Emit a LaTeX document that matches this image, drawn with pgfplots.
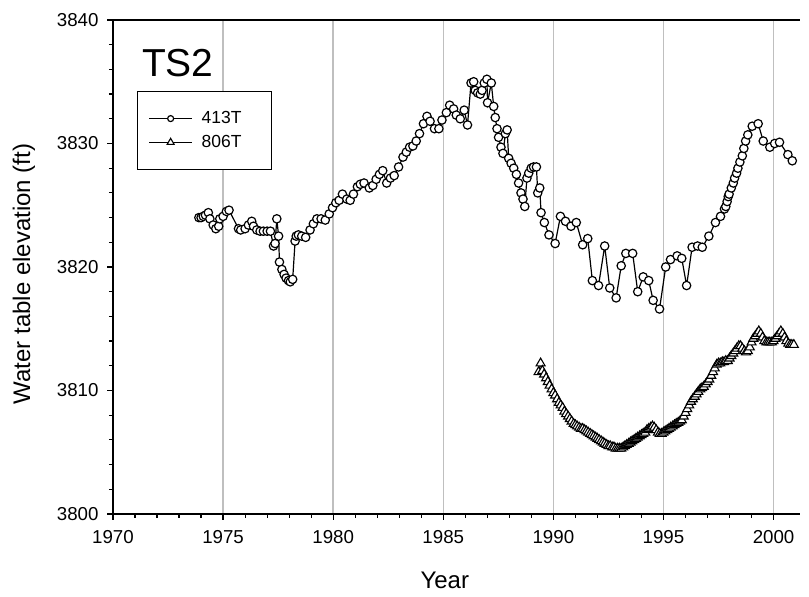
\documentclass[border=0pt]{standalone}
\usepackage{fontspec}
\setmainfont{Liberation Sans}
\usepackage{pgfplots}
\pgfplotsset{compat=1.18}
\pgfplotsset{
  legA/.style={legend image code/.code={\draw[mark repeat=2,mark phase=2,##1,line width=1.0pt,mark size=3.0pt] plot coordinates {(0pt,0pt) (21.5pt,0pt) (43pt,0pt)};}},
  legB/.style={legend image code/.code={\draw[mark repeat=2,mark phase=2,##1,line width=1.0pt,mark size=4.0pt] plot coordinates {(0pt,0pt) (21.5pt,0pt) (43pt,0pt)};}},
}
\begin{document}
\begin{tikzpicture}
\useasboundingbox (-113pt,-83pt) rectangle (696pt,514pt);
\begin{axis}[
  at={(0pt,0pt)}, anchor=south west,
  scale only axis, width=687pt, height=494pt,
  xmin=1970, xmax=2001.2, ymin=3800, ymax=3840,
  axis x line*=bottom, axis y line*=left,
  axis line style={line width=1.3pt, black},
  xtick={1970,1975,...,2000}, ytick={3800,3810,...,3840},
  minor x tick num=4, minor y tick num=4,
  tick align=outside,
  major tick length=6pt, minor tick length=4pt,
  every tick/.style={black, line width=1.2pt},
  xmajorgrids, major x grid style={black!25, line width=1.5pt},
  /pgf/number format/assume math mode=true,
  /pgf/number format/1000 sep={},
  ticklabel style={font=\fontsize{18.7}{22}\selectfont},
  xticklabel style={yshift=-7pt},
  yticklabel style={xshift=-5pt},
  xlabel={Year}, ylabel={Water table elevation (ft)},
  label style={font=\fontsize{24}{28}\selectfont},
  xlabel style={at={(axis description cs:0.483,-0.1336)}, anchor=center},
  ylabel style={at={(axis description cs:-0.1295,0.486)}, anchor=center},
  legend style={at={(rel axis cs:0.035,0.856)}, anchor=north west, draw=black, line width=1.2pt,
    font=\fontsize{17.5}{20}\selectfont, inner xsep=11pt, inner ysep=18pt, row sep=6pt},
  legend cell align=left,
]
\draw[line width=1.3pt] (rel axis cs:0,1) -- (rel axis cs:1,1);
\addplot[black, line width=1.2pt, mark=*, mark size=4.2pt, mark options={fill=white, draw=black, line width=1.2pt}, legA]
coordinates {
(1973.90,3824.0) (1974.00,3824.0) (1974.10,3824.1) (1974.20,3824.2) (1974.33,3824.4)
(1974.40,3823.9) (1974.55,3823.4) (1974.67,3823.1) (1974.80,3823.3) (1974.85,3823.9)
(1975.00,3824.1) (1975.15,3824.5) (1975.27,3824.6) (1975.70,3823.1) (1975.80,3823.0)
(1976.00,3823.1) (1976.15,3823.4) (1976.30,3823.7) (1976.38,3823.3) (1976.53,3823.0)
(1976.68,3822.9) (1976.83,3822.9) (1977.00,3822.9) (1977.15,3822.9) (1977.29,3821.7)
(1977.36,3821.9) (1977.44,3823.9) (1977.52,3822.5) (1977.56,3820.4) (1977.67,3819.8)
(1977.77,3819.4) (1977.86,3819.1) (1977.97,3818.9) (1978.05,3818.8) (1978.16,3819.0)
(1978.27,3822.1) (1978.32,3822.5) (1978.42,3822.6) (1978.57,3822.5) (1978.75,3822.4)
(1978.95,3823.0) (1979.10,3823.5) (1979.26,3823.9) (1979.45,3823.9) (1979.64,3823.8)
(1979.82,3824.3) (1979.97,3824.8) (1980.12,3825.2) (1980.27,3825.4) (1980.42,3825.9)
(1980.62,3825.5) (1980.77,3825.4) (1980.92,3825.9) (1981.10,3826.5) (1981.23,3826.7)
(1981.40,3826.8) (1981.64,3826.4) (1981.80,3826.6) (1981.95,3827.1) (1982.10,3827.5)
(1982.25,3827.8) (1982.43,3826.8) (1982.60,3827.2) (1982.77,3827.4) (1982.97,3828.1)
(1983.17,3828.9) (1983.32,3829.3) (1983.47,3829.7) (1983.62,3829.8) (1983.77,3830.2)
(1983.92,3830.8) (1984.10,3831.6) (1984.26,3832.2) (1984.40,3831.8) (1984.60,3831.2)
(1984.80,3831.2) (1984.94,3831.9) (1985.14,3832.5) (1985.29,3833.1) (1985.47,3832.8)
(1985.59,3832.3) (1985.77,3832.0) (1985.95,3832.7) (1986.10,3831.5) (1986.26,3834.9)
(1986.38,3835.0) (1986.45,3834.3) (1986.56,3834.1) (1986.68,3834.0) (1986.76,3834.3)
(1986.86,3834.9) (1986.98,3835.2) (1987.01,3833.3) (1987.18,3834.9) (1987.29,3833.0)
(1987.36,3832.1) (1987.44,3831.2) (1987.51,3830.5) (1987.62,3829.7) (1987.71,3829.2)
(1987.82,3830.8) (1987.90,3831.1) (1987.97,3828.8) (1988.08,3828.4) (1988.20,3828.0)
(1988.32,3827.5) (1988.42,3826.8) (1988.53,3826.0) (1988.62,3825.5) (1988.70,3824.9)
(1988.80,3827.2) (1988.88,3827.6) (1988.99,3828.0) (1989.10,3828.1) (1989.23,3828.1)
(1989.29,3826.0) (1989.38,3826.4) (1989.44,3824.4) (1989.59,3823.6) (1989.80,3822.6)
(1990.08,3821.9) (1990.32,3824.1) (1990.55,3823.7) (1990.80,3823.3) (1991.04,3823.6)
(1991.33,3821.8) (1991.56,3822.3) (1991.77,3818.9) (1992.05,3818.5) (1992.33,3821.7)
(1992.56,3818.3) (1992.85,3817.5) (1993.08,3820.1) (1993.29,3821.1) (1993.60,3821.1)
(1993.83,3818.0) (1994.08,3819.2) (1994.33,3818.9) (1994.53,3817.3) (1994.82,3816.6)
(1995.10,3820.0) (1995.32,3820.6) (1995.62,3820.9) (1995.83,3820.7) (1996.05,3818.5)
(1996.30,3821.6) (1996.55,3821.7) (1996.76,3821.6) (1997.06,3822.5) (1997.36,3823.6)
(1997.59,3824.1) (1997.77,3824.7) (1997.83,3824.9) (1997.89,3825.3) (1997.94,3825.7)
(1997.98,3825.9) (1998.08,3826.4) (1998.17,3826.8) (1998.23,3827.2) (1998.32,3827.6)
(1998.38,3828.0) (1998.47,3828.5) (1998.58,3829.0) (1998.65,3829.6) (1998.73,3830.2)
(1998.83,3830.7) (1999.03,3831.4) (1999.30,3831.6) (1999.53,3830.2) (1999.83,3829.7)
(2000.05,3830.0) (2000.27,3830.1) (2000.65,3829.1) (2000.85,3828.6)
};
\addlegendentry{\hspace*{7pt}413T\hspace*{17pt}}
\addplot[black, line width=1.1pt, mark=triangle*, mark size=5.2pt, mark options={fill=white, draw=black, line width=1.1pt}, legB]
coordinates {
(1989.33,3811.5) (1989.42,3812.2) (1989.50,3811.6) (1989.58,3811.3) (1989.67,3811.0)
(1989.75,3810.7) (1989.83,3810.4) (1989.92,3810.1) (1990.00,3809.8) (1990.08,3809.6)
(1990.17,3809.3) (1990.25,3809.0) (1990.33,3808.8) (1990.42,3808.6) (1990.50,3808.3)
(1990.58,3808.1) (1990.67,3807.9) (1990.75,3807.7) (1990.83,3807.5) (1990.92,3807.3)
(1991.00,3807.2) (1991.08,3807.1) (1991.17,3807.0) (1991.25,3806.9) (1991.33,3806.9)
(1991.42,3806.8) (1991.50,3806.7) (1991.58,3806.6) (1991.67,3806.5) (1991.75,3806.4)
(1991.83,3806.3) (1991.92,3806.2) (1992.00,3806.1) (1992.08,3806.0) (1992.17,3805.9)
(1992.25,3805.8) (1992.33,3805.7) (1992.42,3805.6) (1992.50,3805.5) (1992.58,3805.5)
(1992.67,3805.4) (1992.75,3805.4) (1992.83,3805.3) (1992.92,3805.3) (1993.00,3805.3)
(1993.08,3805.3) (1993.17,3805.4) (1993.25,3805.5) (1993.33,3805.6) (1993.42,3805.7)
(1993.50,3805.8) (1993.58,3805.9) (1993.67,3806.0) (1993.75,3806.1) (1993.83,3806.2)
(1993.92,3806.3) (1994.00,3806.4) (1994.08,3806.5) (1994.17,3806.6) (1994.25,3806.8)
(1994.33,3806.9) (1994.42,3807.0) (1994.50,3807.1) (1994.58,3807.0) (1994.67,3806.8)
(1994.75,3806.6) (1994.83,3806.5) (1994.92,3806.5) (1995.00,3806.6) (1995.08,3806.7)
(1995.17,3806.8) (1995.25,3806.9) (1995.33,3807.0) (1995.42,3807.1) (1995.50,3807.2)
(1995.58,3807.3) (1995.67,3807.4) (1995.75,3807.5) (1995.83,3807.6) (1995.92,3807.9)
(1996.00,3808.2) (1996.08,3808.5) (1996.17,3808.8) (1996.25,3809.1) (1996.33,3809.3)
(1996.42,3809.5) (1996.50,3809.7) (1996.58,3809.9) (1996.67,3810.1) (1996.75,3810.2)
(1996.83,3810.3) (1996.92,3810.5) (1997.00,3810.7) (1997.08,3810.9) (1997.17,3811.2)
(1997.25,3811.5) (1997.33,3811.8) (1997.42,3812.1) (1997.50,3812.2) (1997.58,3812.2)
(1997.67,3812.3) (1997.75,3812.3) (1997.83,3812.4) (1997.92,3812.4) (1998.00,3812.6)
(1998.08,3812.8) (1998.17,3813.0) (1998.25,3813.2) (1998.33,3813.4) (1998.42,3813.6)
(1998.50,3813.6) (1998.58,3813.4) (1998.67,3813.2) (1998.75,3813.1) (1998.83,3813.2)
(1998.92,3813.5) (1999.00,3813.9) (1999.08,3814.2) (1999.17,3814.4) (1999.25,3814.6)
(1999.33,3814.8) (1999.42,3814.6) (1999.50,3814.3) (1999.58,3814.0) (1999.67,3813.9)
(1999.75,3813.9) (1999.83,3813.9) (1999.92,3813.9) (2000.00,3814.0) (2000.08,3814.2)
(2000.17,3814.4) (2000.25,3814.6) (2000.33,3814.8) (2000.42,3814.6) (2000.50,3814.3)
(2000.58,3814.0) (2000.67,3813.8) (2000.75,3813.7) (2000.83,3813.7) (2000.92,3813.7)
};
\addlegendentry{\hspace*{7pt}806T\hspace*{17pt}}
\node[anchor=west, inner sep=0pt, font=\fontsize{39}{46}\selectfont] at (rel axis cs:0.042,0.913) {TS2};
\end{axis}
\end{tikzpicture}
\end{document}
